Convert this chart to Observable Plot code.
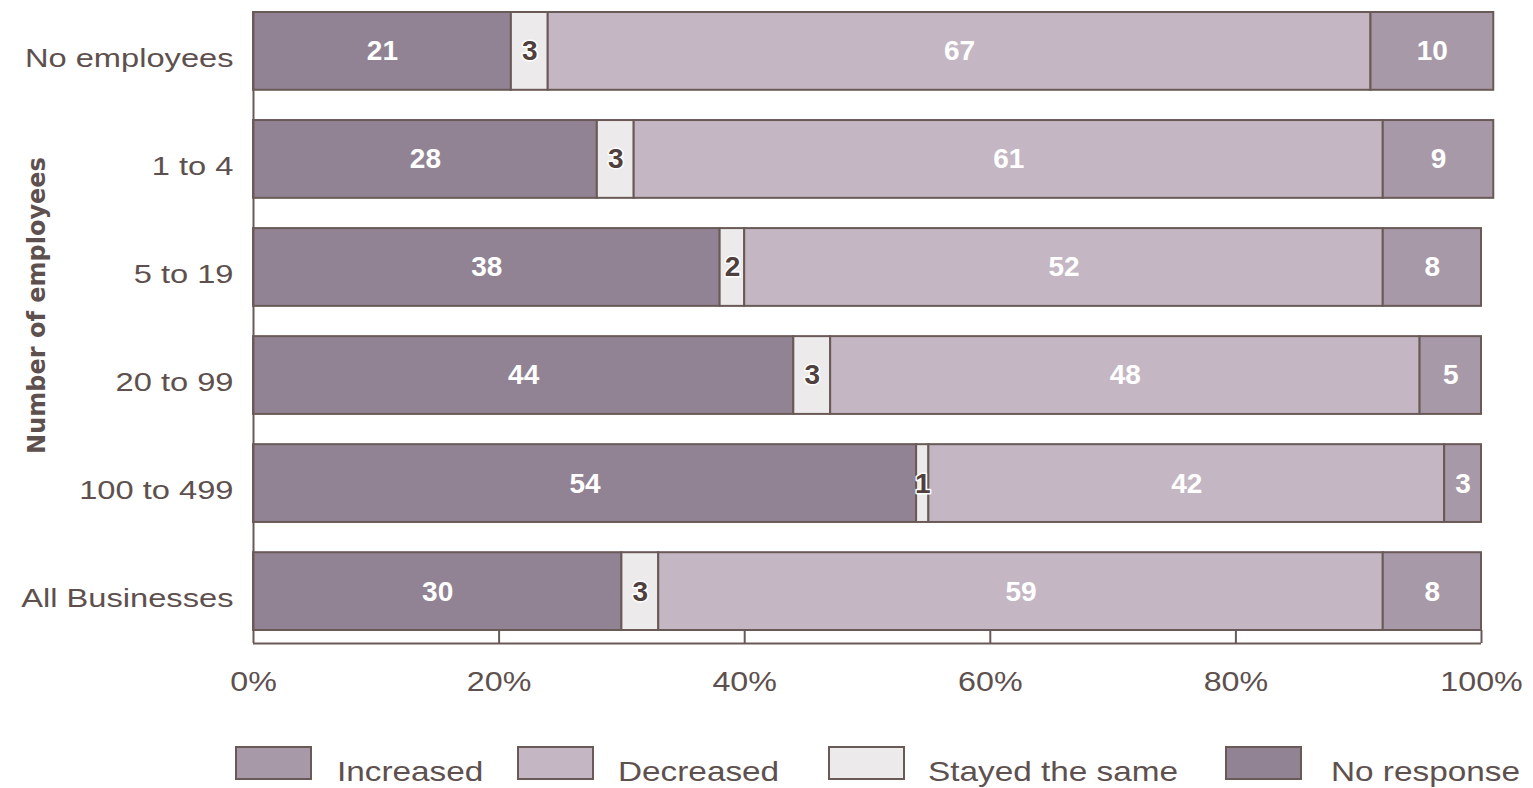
<!DOCTYPE html>
<html>
<head>
<meta charset="utf-8">
<script src="https://cdn.jsdelivr.net/npm/d3@7"></script>
<script src="https://cdn.jsdelivr.net/npm/@observablehq/plot@0.6"></script>
<style>
  html, body { margin: 0; padding: 0; background: #ffffff; }
  #wrap { position: relative; width: 1533px; height: 788px; overflow: hidden; font-family: "Liberation Sans", Arial, sans-serif; }
  .sw { position: absolute; top: 746px; width: 73px; height: 30px; border: 2px solid #6a5a57; }
  .lt { position: absolute; top: 758px; font-size: 28px; line-height: 28px; color: #5e504e; white-space: nowrap;
        transform: scaleX(1.19); transform-origin: 0 50%; }
</style>
</head>
<body>
<div id="wrap"></div>
<script>
// ---- data ----
const categories = ["No employees", "1 to 4", "5 to 19", "20 to 99", "100 to 499", "All Businesses"];
const seriesNames = ["Increased", "Stayed the same", "Decreased", "No response"];
const increased  = [21, 28, 38, 44, 54, 30];
const stayed     = [3, 3, 2, 3, 1, 3];
const decreased  = [67, 61, 52, 48, 42, 59];
const noResponse = [10, 9, 8, 5, 3, 8];
const xTicks = [0, 20, 40, 60, 80, 100];
const barColors = ["#918394", "#edeaec", "#c4b7c3", "#a899a8"];
const legendLabels = ["Increased", "Decreased", "Stayed the same", "No response"];
const legendColors = ["#a899a8", "#c4b7c3", "#edeaec", "#918394"];
const axisTitle = "Number of employees";

const seriesValues = [increased, stayed, decreased, noResponse];
const data = [];
categories.forEach((c, i) => {
  seriesNames.forEach((s, j) => data.push({category: c, series: s, value: seriesValues[j][i]}));
});

// ---- layout ----
const W = 1533, H = 720, mTop = 12, mBottom = 90, mLeft = 253, mRight = 52;
const pInner = 0.28;
const bw = (H - mTop - mBottom) / (categories.length - pInner) * (1 - pInner);
const ink = "#6a5a57";
const textCol = "#5e504e";
const sans = "Liberation Sans, Arial, sans-serif";

const stackOpts = {x: "value", y: "category", z: "series", order: null};

const chart = Plot.plot({
  width: W,
  height: H,
  marginTop: mTop,
  marginBottom: mBottom,
  marginLeft: mLeft,
  marginRight: mRight,
  style: {fontFamily: sans, color: textCol, background: "#ffffff"},
  x: {domain: [0, 100]},
  y: {domain: categories, paddingInner: pInner, paddingOuter: 0, round: false},
  color: {domain: seriesNames, range: barColors},
  marks: [
    Plot.barX(data, Plot.stackX({...stackOpts, fill: "series", stroke: ink, strokeWidth: 2})),
    Plot.ruleX([0], {stroke: ink, strokeWidth: 2}),
    Plot.ruleY([categories[categories.length - 1]], {x1: 0, x2: 100, dy: bw / 2 + 13, stroke: ink, strokeWidth: 2}),
    Plot.axisX({ticks: xTicks, tickFormat: d => d + "%", tickSize: 13, tickPadding: 28, fontSize: 28, stroke: ink, strokeWidth: 2, fill: textCol, label: null}),
    Plot.axisY({tickSize: 0, tickPadding: 20, fontSize: 25.5, dy: 7, fill: textCol, label: null}),
    Plot.text(data, Plot.stackX({...stackOpts, ariaLabel: "bar label",
      text: d => d.series === "Stayed the same" ? null : String(d.value),
      fill: "white", fontWeight: "bold", fontSize: 28})),
    Plot.text(data, Plot.stackX({...stackOpts, ariaLabel: "bar label",
      text: d => d.series === "Stayed the same" ? String(d.value) : null,
      fill: "#4f403d", stroke: "white", strokeWidth: 3, fontWeight: "bold", fontSize: 28})),
    Plot.text([axisTitle], {frameAnchor: "left", text: d => d, rotate: -90, textAnchor: "middle",
      dx: -216, dy: -16, fontWeight: "bold", fontSize: 24, fontFamily: "DejaVu Sans, sans-serif", fill: textCol})
  ]
});

const wrap = document.getElementById("wrap");
wrap.appendChild(chart);

// horizontal widening of glyphs (reference text is stretched): textLength, positions untouched
function widen(selector, s) {
  chart.querySelectorAll(selector).forEach(el => {
    const len = el.getComputedTextLength();
    if (len > 0) {
      el.setAttribute("textLength", (len * s).toFixed(1));
      el.setAttribute("lengthAdjust", "spacingAndGlyphs");
    }
  });
}
widen('g[aria-label="y-axis tick label"] text', 1.28);
widen('g[aria-label="x-axis tick label"] text', 1.15);
widen('g[aria-label="bar label"] text', 1.12);

// ---- legend (HTML, below the SVG) ----
const swatchLeft = [235, 517, 828, 1225];
const textLeft = [337, 618, 928, 1331];
legendLabels.forEach((lab, i) => {
  const sw = document.createElement("div");
  sw.className = "sw";
  sw.style.left = swatchLeft[i] + "px";
  sw.style.background = legendColors[i];
  wrap.appendChild(sw);
  const t = document.createElement("div");
  t.className = "lt";
  t.style.left = textLeft[i] + "px";
  t.textContent = lab;
  wrap.appendChild(t);
});
</script>
</body>
</html>
